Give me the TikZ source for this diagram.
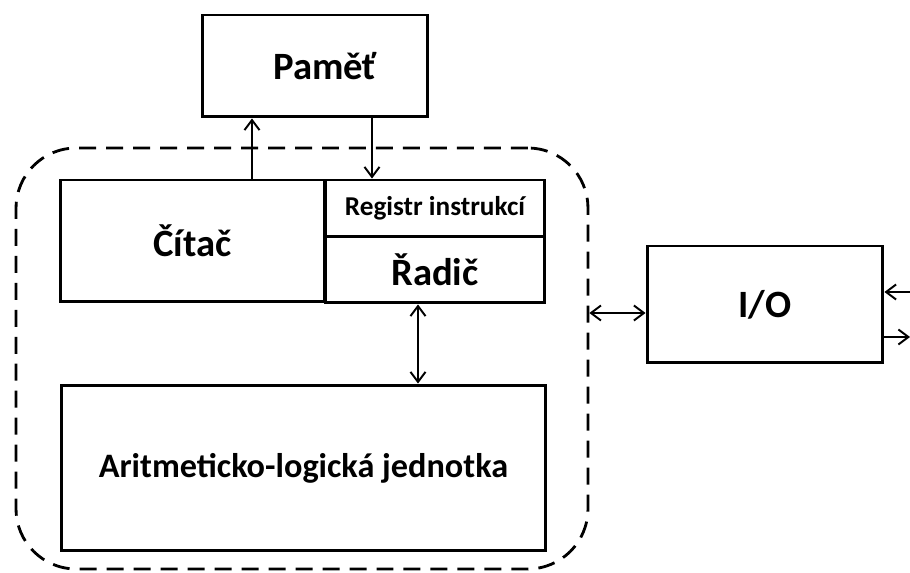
\documentclass[tikz,border=0pt]{standalone}
\usepackage{fontspec}
\setmainfont{Carlito}
\usetikzlibrary{arrows.meta}

\tikzset{
  blok/.style={draw, line width=1.7pt, inner sep=0pt, font=\bfseries\fontsize{22}{26}\selectfont},
  spoj/.style={line width=1.1pt},
}

\begin{document}
\begin{tikzpicture}[x=0.02cm, y=-0.02cm, >={Straight Barb[length=2mm, width=3mm]}]
  \useasboundingbox (0,0) rectangle (910,573);

  % procesor (carkovany ramec)
  \node[draw, line width=1.6pt, dash pattern=on 0.34cm off 0.2cm, rounded corners=1.2cm,
        minimum width=11.44cm, minimum height=8.42cm] (cpu) at (302,358.5) {};

  % pamet
  \node[blok, minimum width=4.52cm, minimum height=2.04cm] (pamet) at (315,66) {\hspace*{0.4cm}Paměť};

  % bloky procesoru
  \node[blok, minimum width=5.3cm, minimum height=2.44cm] (citac) at (192.5,241) {Čítač};
  \node[blok, minimum width=4.4cm, minimum height=1.14cm, font=\bfseries\fontsize{15.5}{18}\selectfont]
       (registr) at (435,208.5) {Registr instrukcí};
  \node[blok, minimum width=4.4cm, minimum height=1.32cm] (radic) at (435,270) {Řadič};
  \node[blok, minimum width=9.7cm, minimum height=3.32cm, font=\bfseries\fontsize{19.5}{23}\selectfont]
       (alu) at (303.5,468) {Aritmeticko-logická jednotka};

  % vstup/vystup
  \node[blok, minimum width=4.72cm, minimum height=2.34cm] (io) at (765,304.5) {I/O};

  % spoje
  \draw[spoj, ->] (citac.north -| 252,0) -- (pamet.south -| 252,0);
  \draw[spoj, ->] (pamet.south -| 372,0) -- (registr.north -| 372,0);
  \draw[spoj, <->] (radic.south -| 418,0) -- (alu.north -| 418,0);
  \draw[spoj, <->] (cpu.east |- 0,313) -- (io.west |- 0,313);

  \coordinate (vstup) at (910,292);
  \coordinate (vystup) at (910,337);
  \draw[spoj, ->] (vstup) -- (io.east |- vstup);
  \draw[spoj, ->] (io.east |- vystup) -- (vystup);
\end{tikzpicture}
\end{document}
